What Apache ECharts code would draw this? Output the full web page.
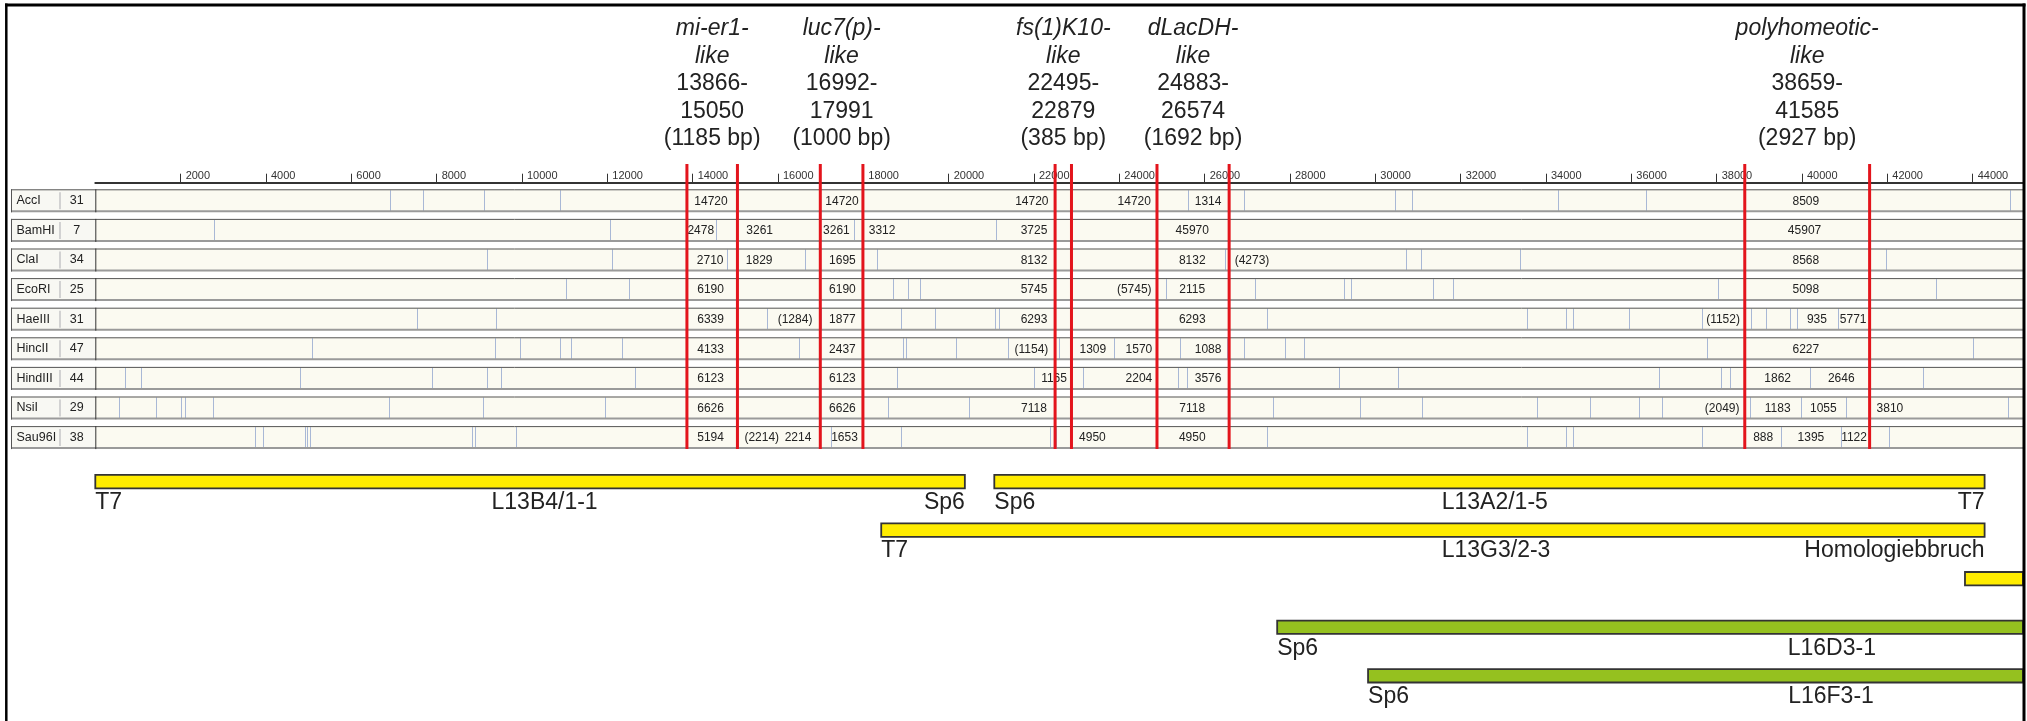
<!DOCTYPE html>
<html>
<head>
<meta charset="utf-8">
<title>Restriktionskarte</title>
<script src="https://cdn.jsdelivr.net/npm/echarts@6/dist/echarts.min.js"></script>
<style>
  html, body { margin: 0; padding: 0; background: #fff; }
  #chart { width: 2027px; height: 721px; }
</style>
</head>
<body>
<div id="chart"></div>
<script>
// ---------------- data ----------------
const X_MAX = 45180;           // visible end of the sequence (bp)
const TICK_INTERVAL = 2000;

const enzymes    = ['AccI', 'BamHI', 'ClaI', 'EcoRI', 'HaeIII', 'HincII', 'HindIII', 'NsiI', 'Sau96I'];
const siteCounts = [31, 7, 34, 25, 31, 47, 44, 29, 38];

// restriction sites (bp) per enzyme
const sitesAccI    = [6900, 7690, 9100, 10900, 25610, 26920, 30470, 30850, 34280, 36350, 44880];
const sitesBamHI   = [2790, 12060, 14550, 17790, 21110, 24860];
const sitesClaI    = [9190, 12100, 14800, 16630, 18320, 26470, 30720, 31080, 33390, 41960];
const sitesEcoRI   = [11030, 12520, 18700, 19050, 19330, 25090, 27180, 29270, 29430, 31350, 31830, 38040, 43140];
const sitesHaeIII  = [7540, 9400, 15740, 17010, 18890, 19680, 21090, 21190, 27470, 33550, 34480, 34630, 35950, 37660, 38810, 39160, 39730, 39890, 40840];
const sitesHincII  = [5090, 9360, 9950, 10900, 11140, 12340, 16490, 18940, 18990, 20170, 21400, 22580, 23880, 25430, 26520, 26920, 27880, 28320, 37770, 44000];
const sitesHindIII = [700, 1060, 4790, 7900, 9180, 9510, 12660, 18780, 22000, 23150, 25370, 25580, 29160, 30520, 36650, 38100, 38310, 40190, 42840];
const sitesNsiI    = [560, 1430, 2010, 2110, 2750, 6890, 9080, 11940, 18570, 20480, 27600, 29650, 31090, 33800, 35020, 36190, 36730, 38780, 39970, 41030, 44840];
const sitesSau96I  = [3750, 3940, 4910, 4960, 5040, 8820, 8910, 9850, 15060, 17240, 18890, 22370, 22520, 27470, 33550, 34480, 34630, 37660, 38640, 39510, 40910, 42040];
const sites = [sitesAccI, sitesBamHI, sitesClaI, sitesEcoRI, sitesHaeIII, sitesHincII, sitesHindIII, sitesNsiI, sitesSau96I];

// fragment length labels: [position (bp), text]
const fragAccI    = [[14430, '14720'], [17500, '14720'], [21950, '14720'], [24350, '14720'], [26080, '1314'], [40090, '8509']];
const fragBamHI   = [[14190, '2478'], [15570, '3261'], [17370, '3261'], [18440, '3312'], [22000, '3725'], [25710, '45970'], [40060, '45907']];
const fragClaI    = [[14410, '2710'], [15560, '1829'], [17510, '1695'], [22000, '8132'], [25710, '8132'], [27110, '(4273)'], [40090, '8568']];
const fragEcoRI   = [[14420, '6190'], [17510, '6190'], [22000, '5745'], [24350, '(5745)'], [25710, '2115'], [40090, '5098']];
const fragHaeIII  = [[14420, '6339'], [16400, '(1284)'], [17510, '1877'], [22000, '6293'], [25710, '6293'], [38150, '(1152)'], [40350, '935'], [41200, '5771']];
const fragHincII  = [[14420, '4133'], [17510, '2437'], [21940, '(1154)'], [23380, '1309'], [24460, '1570'], [26080, '1088'], [40090, '6227']];
const fragHindIII = [[14420, '6123'], [17510, '6123'], [22470, '1165'], [24460, '2204'], [26080, '3576'], [39430, '1862'], [40920, '2646']];
const fragNsiI    = [[14420, '6626'], [17510, '6626'], [22000, '7118'], [25710, '7118'], [38130, '(2049)'], [39430, '1183'], [40500, '1055'], [42060, '3810']];
const fragSau96I  = [[14420, '5194'], [15620, '(2214)'], [16470, '2214'], [17560, '1653'], [23370, '4950'], [25710, '4950'], [39090, '888'], [40210, '1395'], [41220, '1122']];
const fragLabels = [fragAccI, fragBamHI, fragClaI, fragEcoRI, fragHaeIII, fragHincII, fragHindIII, fragNsiI, fragSau96I];

// genes
const geneNames  = ['mi-er1', 'luc7(p)', 'fs(1)K10', 'dLacDH', 'polyhomeotic'];
const geneStarts = [13866, 16992, 22495, 24883, 38659];
const geneEnds   = [15050, 17991, 22879, 26574, 41585];

// clones
const cloneNames   = ['L13B4/1-1', 'L13A2/1-5', 'L13G3/2-3', '', 'L16D3-1', 'L16F3-1'];
const cloneLibs    = ['L13', 'L13', 'L13', 'L13', 'L16', 'L16'];
const cloneStarts  = [0, 21070, 18420, 43820, 27700, 29830];
const cloneEnds    = [20380, 44280, 44280, 47000, 47000, 47000];
const cloneLanes   = [0, 0, 1, 2, 3, 4];
const cloneLeft    = ['T7', 'Sp6', 'T7', '', 'Sp6', 'Sp6'];
const cloneRight   = ['Sp6', 'T7', 'Homologiebbruch', '', '', ''];
const cloneNameAt  = [10530, 32800, 32830, null, 40700, 40680];
const lanes = ['0', '1', '2', '3', '4'];

// ---------------- drawing ----------------
const FONT = 'Liberation Sans';
const libColor = { L13: '#ffec00', L16: '#95c11f' };

function renderTrack(params, api) {
  const i = api.value(1);
  const cs = params.coordSys;
  const p0 = api.coord([0, i]);
  const x0 = p0[0], yc = p0[1];
  const xEnd = cs.x + cs.width + 2;
  const h = 23, top = yc - 11.5;
  const lx = x0 - 84.3;
  const sepX = x0 - 35.3;
  const ch = [];
  ch.push({ type: 'rect', shape: { x: lx, y: top, width: x0 - lx, height: h }, style: { fill: '#f8f8f3' } });
  ch.push({ type: 'rect', shape: { x: x0, y: top, width: xEnd - x0, height: h }, style: { fill: '#fbfaf1' } });
  sites[i].forEach(s => {
    const x = Math.round(api.coord([s, i])[0]) + 0.5;
    ch.push({ type: 'line', shape: { x1: x, y1: top + 1, x2: x, y2: top + h - 1 }, style: { stroke: '#a9b8d6', lineWidth: 1 } });
  });
  ch.push({ type: 'line', shape: { x1: lx, y1: top + 0.5, x2: xEnd, y2: top + 0.5 }, style: { stroke: '#555', lineWidth: 1 } });
  ch.push({ type: 'line', shape: { x1: lx, y1: top + h - 1, x2: xEnd, y2: top + h - 1 }, style: { stroke: '#9a9a9a', lineWidth: 2 } });
  ch.push({ type: 'line', shape: { x1: lx + 0.5, y1: top, x2: lx + 0.5, y2: top + h }, style: { stroke: '#555', lineWidth: 1 } });
  ch.push({ type: 'line', shape: { x1: sepX, y1: top + 3, x2: sepX, y2: top + h - 3 }, style: { stroke: '#d2d2d2', lineWidth: 2 } });
  ch.push({ type: 'line', shape: { x1: x0 + 0.5, y1: top, x2: x0 + 0.5, y2: top + h }, style: { stroke: '#333', lineWidth: 1 } });
  ch.push({ type: 'text', style: { x: lx + 5.5, y: yc, text: enzymes[i], fontSize: 12.5, fontFamily: FONT, fill: '#222', align: 'left', verticalAlign: 'middle' } });
  ch.push({ type: 'text', style: { x: x0 - 18.5, y: yc, text: String(siteCounts[i]), fontSize: 12.5, fontFamily: FONT, fill: '#222', align: 'center', verticalAlign: 'middle' } });
  fragLabels[i].forEach(f => {
    const x = api.coord([f[0], i])[0];
    ch.push({ type: 'text', style: { x: x, y: yc + 0.5, text: f[1], fontSize: 12, fontFamily: FONT, fill: '#222', align: 'center', verticalAlign: 'middle' } });
  });
  return { type: 'group', children: ch };
}

function renderGene(params, api) {
  const s = api.value(0), e = api.value(2), gi = api.value(3);
  const firstRow = api.coord([0, 0])[1];
  const lastRow = api.coord([0, enzymes.length - 1])[1];
  const top = firstRow - 11.5 - 25.3;
  const bottom = lastRow + 11.5;
  const xs = api.coord([s, 0])[0], xe = api.coord([e, 0])[0];
  const xm = api.coord([(s + e) / 2, 0])[0];
  const len = e - s + 1;
  const txt = '{i|' + geneNames[gi] + '-}\n{i|like}\n{n|' + s + '-}\n{n|' + e + '}\n{n|(' + len + ' bp)}';
  const rs = { fontSize: 23, fontFamily: FONT, lineHeight: 27.5, fill: '#222' };
  return {
    type: 'group',
    children: [
      { type: 'line', shape: { x1: xs, y1: top, x2: xs, y2: bottom }, style: { stroke: '#e3141c', lineWidth: 3 } },
      { type: 'line', shape: { x1: xe, y1: top, x2: xe, y2: bottom }, style: { stroke: '#e3141c', lineWidth: 3 } },
      { type: 'text', style: {
          x: xm, y: firstRow - 11.5 - 36.5, text: txt, align: 'center', verticalAlign: 'bottom',
          fontSize: 23, fontFamily: FONT, lineHeight: 27.5, fill: '#222',
          rich: { i: Object.assign({ fontStyle: 'italic' }, rs), n: Object.assign({}, rs) }
        } }
    ]
  };
}

function renderClone(params, api) {
  const ci = api.value(3);
  const cs = params.coordSys;
  const lane = api.value(1);
  const p = api.coord([api.value(0), lane]);
  const xs = p[0], yc = p[1];
  const xe = Math.min(api.coord([api.value(2), lane])[0], cs.x + cs.width);
  const ly = yc + 21;
  const ts = { fontSize: 23, fontFamily: FONT, fill: '#222', verticalAlign: 'middle' };
  const ch = [
    { type: 'rect', shape: { x: xs, y: yc - 6.7, width: xe - xs, height: 13.4 }, style: { fill: libColor[cloneLibs[ci]], stroke: '#333', lineWidth: 1.8 } }
  ];
  if (cloneLeft[ci]) ch.push({ type: 'text', style: Object.assign({ x: xs, y: ly, text: cloneLeft[ci], align: 'left' }, ts) });
  if (cloneRight[ci]) ch.push({ type: 'text', style: Object.assign({ x: xe, y: ly, text: cloneRight[ci], align: 'right' }, ts) });
  if (cloneNames[ci]) ch.push({ type: 'text', style: Object.assign({ x: api.coord([cloneNameAt[ci], lane])[0], y: ly, text: cloneNames[ci], align: 'center' }, ts) });
  return { type: 'group', children: ch };
}

const chart = echarts.init(document.getElementById('chart'), null, { renderer: 'canvas' });
chart.setOption({
  animation: false,
  backgroundColor: '#ffffff',
  grid: [
    { left: 95.3, right: 4, top: 186, height: 266.4 },
    { left: 95.3, right: 4, top: 457.3, height: 242.75 }
  ],
  xAxis: [
    {
      gridIndex: 0, type: 'value', min: 0, max: X_MAX, interval: TICK_INTERVAL,
      position: 'top', offset: 3.3,
      axisLine: { show: true, onZero: false, lineStyle: { color: '#333', width: 2 } },
      axisTick: { show: true, inside: false, length: 9, lineStyle: { color: '#333', width: 1 } },
      axisLabel: {
        show: true, align: 'left', margin: 1, padding: [0, 0, 0, 5],
        fontSize: 11, fontFamily: FONT, color: '#333',
        showMinLabel: false, showMaxLabel: false,
        formatter: v => (v === 0 ? '' : String(v))
      },
      splitLine: { show: false }
    },
    { gridIndex: 1, type: 'value', min: 0, max: X_MAX, show: false, splitLine: { show: false } }
  ],
  yAxis: [
    { gridIndex: 0, type: 'category', data: enzymes, inverse: true, show: false },
    { gridIndex: 1, type: 'category', data: lanes, inverse: true, show: false }
  ],
  series: [
    { type: 'custom', name: 'tracks', xAxisIndex: 0, yAxisIndex: 0, z: 2,
      data: enzymes.map((e, i) => [0, i]), renderItem: renderTrack },
    { type: 'custom', name: 'genes', xAxisIndex: 0, yAxisIndex: 0, z: 5,
      data: geneNames.map((g, i) => [geneStarts[i], 0, geneEnds[i], i]), renderItem: renderGene },
    { type: 'custom', name: 'clones', xAxisIndex: 1, yAxisIndex: 1, z: 3,
      data: cloneNames.map((c, i) => [cloneStarts[i], cloneLanes[i], cloneEnds[i], i]), renderItem: renderClone }
  ],
  graphic: [
    { type: 'line', z: 100, shape: { x1: 5, y1: 5, x2: 2025.5, y2: 5 }, style: { stroke: '#000', lineWidth: 3 } },
    { type: 'line', z: 100, shape: { x1: 6.3, y1: 3.5, x2: 6.3, y2: 721 }, style: { stroke: '#000', lineWidth: 2.5 } },
    { type: 'line', z: 100, shape: { x1: 2024, y1: 3.5, x2: 2024, y2: 721 }, style: { stroke: '#000', lineWidth: 3 } }
  ]
});
</script>
</body>
</html>
